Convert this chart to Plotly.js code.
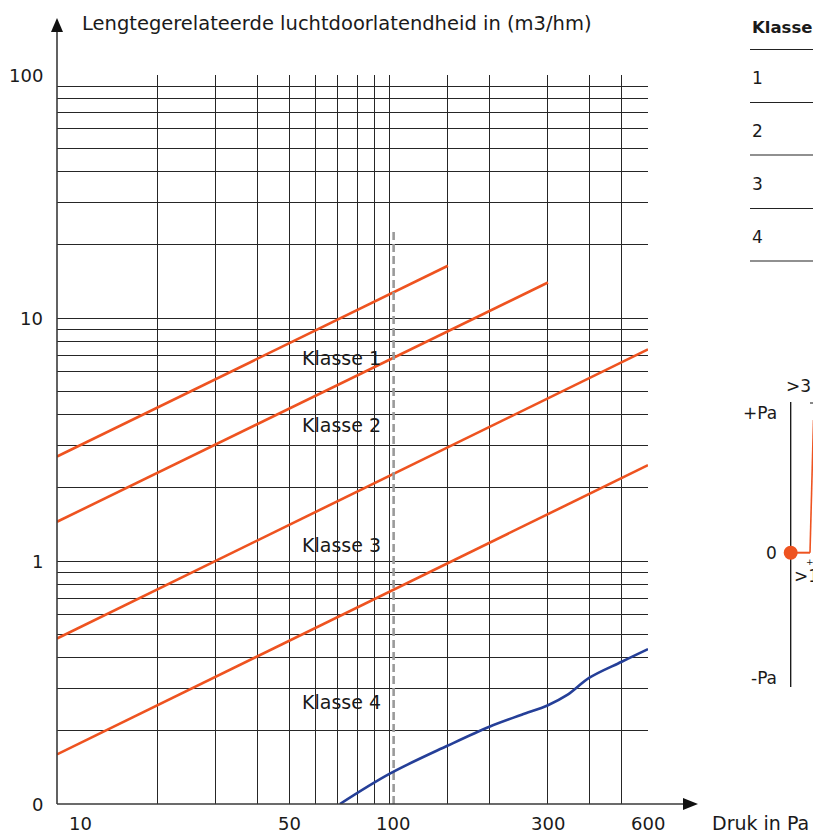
<!DOCTYPE html>
<html>
<head>
<meta charset="utf-8">
<script src="https://cdn.plot.ly/plotly-3.0.1.min.js"></script>
<style>html,body{margin:0;padding:0;background:#fff;}#chart{width:813px;height:834px;}</style>
</head>
<body>
<div id="chart"></div>
<script>
// ---- data ----
const xGrid = [10,20,30,40,50,60,70,80,90,100,150,200,300,400,500,600];
const yGrid = [0.1,0.2,0.3,0.4,0.5,0.6,0.7,0.8,0.9,1,2,3,4,5,6,7,8,9,10,20,30,40,50,60,70,80,90,100];
const xLabelVals = [10,50,100,300,600];
const xLabelText = ['10','50','100','300','600'];
const yLabelVals = [0.1,1,10,100];
const yLabelText = ['0','1','10','100'];

const klasse1X = [10,150];  const klasse1Y = [2.69,16.4];
const klasse2X = [10,300];  const klasse2Y = [1.45,14.0];
const klasse3X = [10,600];  const klasse3Y = [0.48,7.43];
const klasse4X = [10,600];  const klasse4Y = [0.16,2.48];

const measuredX = [71,100,150,200,250,300,343,400,500,600];
const measuredY = [0.1,0.133,0.174,0.208,0.233,0.255,0.281,0.331,0.385,0.434];

const refX = [103,103];
const refY = [0.1,23];

const classNames = ['Klasse 1','Klasse 2','Klasse 3','Klasse 4'];
const classLabelX = [72,72,72,72];
const classLabelY = [6.84,3.63,1.16,0.263];

const tableHeader = 'Klasse';
const tableRows = ['1','2','3','4'];

// ---- helpers (pixel -> paper) ----
const W = 813, H = 834;
const P = x => x / W;
const Q = y => 1 - y / H;
const ORANGE = '#ee5320';
const BLUE = '#253f98';
const INK = '#1a1a1a';
const FONT = 'DejaVu Sans';

const traces = [];
[[klasse1X,klasse1Y],[klasse2X,klasse2Y],[klasse3X,klasse3Y],[klasse4X,klasse4Y]].forEach(([x,y]) => {
  traces.push({x:x, y:y, type:'scatter', mode:'lines', line:{color:ORANGE, width:2.6}, hoverinfo:'skip'});
});
traces.push({x:refX, y:refY, type:'scatter', mode:'lines', line:{color:'#9a9a9a', width:2.6, dash:'8px,4px'}, hoverinfo:'skip'});
traces.push({x:measuredX, y:measuredY, type:'scatter', mode:'lines', line:{color:BLUE, width:2.6, shape:'spline', smoothing:1}, hoverinfo:'skip'});

const annotations = [];
// x tick labels
xLabelVals.forEach((v,i) => {
  let shift = 0;
  if (i === 0) shift = 23;
  if (v === 100) shift = 4;
  annotations.push({xref:'x', yref:'paper', x:Math.log10(v), y:Q(823), text:xLabelText[i], showarrow:false,
    xanchor:'center', yanchor:'middle', xshift:shift, font:{family:FONT, size:18, color:INK}});
});
// y tick labels
yLabelVals.forEach((v,i) => {
  annotations.push({xref:'paper', yref:'y', x:P(45), y:Math.log10(v), text:yLabelText[i], showarrow:false,
    xanchor:'right', yanchor:'middle', font:{family:FONT, size:18, color:INK}});
});
// class labels
classNames.forEach((t,i) => {
  annotations.push({xref:'x', yref:'y', x:Math.log10(classLabelX[i]), y:Math.log10(classLabelY[i]), text:t, showarrow:false,
    xanchor:'center', yanchor:'middle', font:{family:FONT, size:19, color:INK}});
});
// axis titles
annotations.push({xref:'paper', yref:'paper', x:P(80), y:Q(23), text:'Lengtegerelateerde luchtdoorlatendheid in (m3/hm)', showarrow:false,
  xanchor:'left', yanchor:'middle', font:{family:FONT, size:19.5, color:INK}});
annotations.push({xref:'paper', yref:'paper', x:P(710), y:Q(823), text:'Druk in Pa', showarrow:false,
  xanchor:'left', yanchor:'middle', font:{family:FONT, size:19, color:INK}});
// table
annotations.push({xref:'paper', yref:'paper', x:P(750), y:Q(27.5), text:'<b>'+tableHeader+'</b>', showarrow:false,
  xanchor:'left', yanchor:'middle', font:{family:FONT, size:16.5, color:INK}});
const rowY = [78.5,131,184,236.5];
tableRows.forEach((t,i) => {
  annotations.push({xref:'paper', yref:'paper', x:P(750), y:Q(rowY[i]), text:t, showarrow:false,
    xanchor:'left', yanchor:'middle', font:{family:FONT, size:17, color:INK}});
});
// small diagram labels
[['+Pa',779,412.5],['0',779,552.5],['-Pa',779,678]].forEach(([t,x,y]) => {
  annotations.push({xref:'paper', yref:'paper', x:P(x), y:Q(y), text:t, showarrow:false,
    xanchor:'right', yanchor:'middle', font:{family:FONT, size:17, color:INK}});
});
annotations.push({xref:'paper', yref:'paper', x:P(784), y:Q(386), text:'>3', showarrow:false,
  xanchor:'left', yanchor:'middle', font:{family:FONT, size:17, color:INK}});
annotations.push({xref:'paper', yref:'paper', x:P(792), y:Q(576), text:'>1', showarrow:false,
  xanchor:'left', yanchor:'middle', font:{family:FONT, size:17, color:INK}});
annotations.push({xref:'paper', yref:'paper', x:P(810), y:Q(562), text:'+', showarrow:false,
  xanchor:'center', yanchor:'middle', font:{family:FONT, size:9, color:INK}});

const shapes = [];
const AX = '#3a3a3a';
// y axis with arrow
shapes.push({type:'line', xref:'paper', yref:'paper', x0:P(57), x1:P(57), y0:Q(804), y1:Q(30), line:{color:AX, width:1.6}});
shapes.push({type:'path', xref:'paper', yref:'paper',
  path:`M ${P(57)} ${Q(18)} L ${P(51)} ${Q(32)} L ${P(63)} ${Q(32)} Z`, fillcolor:'#111', line:{width:0}});
// x axis with arrow
shapes.push({type:'line', xref:'paper', yref:'paper', x0:P(57), x1:P(686), y0:Q(804), y1:Q(804), line:{color:AX, width:1.6}});
shapes.push({type:'path', xref:'paper', yref:'paper',
  path:`M ${P(698)} ${Q(804)} L ${P(683)} ${Q(798)} L ${P(683)} ${Q(810)} Z`, fillcolor:'#111', line:{width:0}});
// table rules
[49.5,102.5,155,208.5,261].forEach(y => {
  shapes.push({type:'line', xref:'paper', yref:'paper', x0:P(750), x1:P(813), y0:Q(y), y1:Q(y), line:{color:'#222', width:1.2}});
});
// small diagram
shapes.push({type:'line', xref:'paper', yref:'paper', x0:P(790.7), x1:P(790.7), y0:Q(402), y1:Q(687), line:{color:'#111', width:1.3}});
shapes.push({type:'line', xref:'paper', yref:'paper', x0:P(790.7), x1:P(810), y0:Q(552.7), y1:Q(552.7), line:{color:ORANGE, width:2}});
shapes.push({type:'line', xref:'paper', yref:'paper', x0:P(810), x1:P(813.5), y0:Q(552.7), y1:Q(420), line:{color:ORANGE, width:1.6}});
shapes.push({type:'line', xref:'paper', yref:'paper', x0:P(810), x1:P(813), y0:Q(403), y1:Q(403), line:{color:'#111', width:1}});
shapes.push({type:'circle', xref:'paper', yref:'paper', x0:P(783.7), x1:P(797.7), y0:Q(559.7), y1:Q(545.7), fillcolor:ORANGE, line:{width:0}});

const layout = {
  width: W, height: H,
  margin: {l:0, r:0, t:0, b:0, pad:0},
  paper_bgcolor: '#ffffff', plot_bgcolor: '#ffffff',
  showlegend: false,
  font: {family: FONT, size: 18, color: INK},
  xaxis: {type:'log', domain:[57/W, 648/W], range:[1, Math.log10(600)], tickmode:'array', tickvals:xGrid,
    showticklabels:false, ticks:'', showgrid:true, gridcolor:'#262626', gridwidth:1, zeroline:false, showline:false, fixedrange:true},
  yaxis: {type:'log', domain:[30/H, 759/H], range:[-1, 2], tickmode:'array', tickvals:yGrid,
    showticklabels:false, ticks:'', showgrid:true, gridcolor:'#262626', gridwidth:1, zeroline:false, showline:false, fixedrange:true},
  annotations: annotations,
  shapes: shapes
};

Plotly.newPlot('chart', traces, layout, {displayModeBar:false, staticPlot:true});
</script>
</body>
</html>
